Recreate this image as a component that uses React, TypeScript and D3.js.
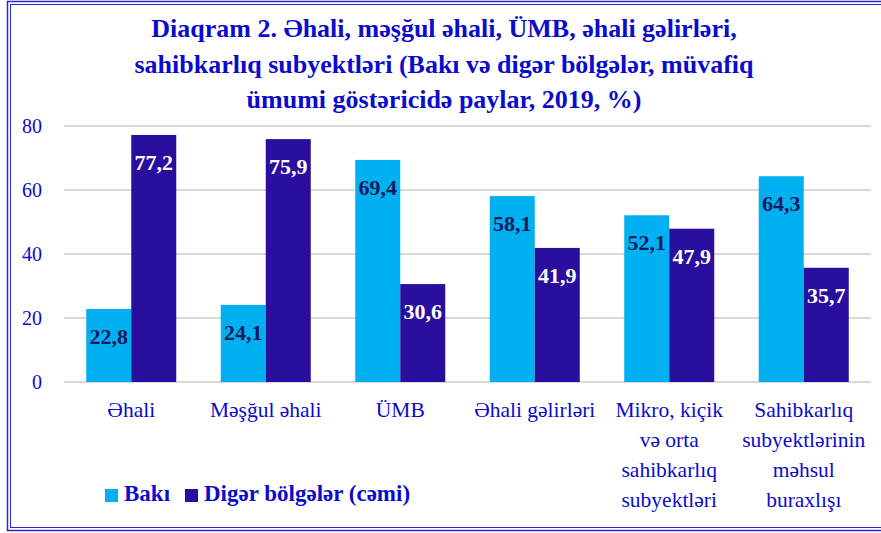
import React from "react";
import * as d3 from "d3";

const titleLines = [
  "Diaqram 2. Əhali, məşğul əhali, ÜMB, əhali gəlirləri,",
  "sahibkarlıq subyektləri (Bakı və digər bölgələr, müvafiq",
  "ümumi göstəricidə paylar, 2019, %)",
];
const categories = [
  ["Əhali"],
  ["Məşğul əhali"],
  ["ÜMB"],
  ["Əhali gəlirləri"],
  ["Mikro, kiçik", "və orta", "sahibkarlıq", "subyektləri"],
  ["Sahibkarlıq", "subyektlərinin", "məhsul", "buraxlışı"],
];
const seriesNames = ["Bakı", "Digər bölgələr (cəmi)"];
const bakuValues = [22.8, 24.1, 69.4, 58.1, 52.1, 64.3];
const otherValues = [77.2, 75.9, 30.6, 41.9, 47.9, 35.7];
const yTicks = [0, 20, 40, 60, 80];

const W = 881;
const H = 533;
const FONT = "'Liberation Serif', 'DejaVu Serif', serif";
const BLUE = "#0B0BCB";
const C1 = "#00B0F0";
const C2 = "#2A0E9E";

export default function App() {
  const plotLeft = 64;
  const plotRight = 871;
  const y = d3.scaleLinear().domain([0, 80]).range([382, 126]);
  const x0 = d3
    .scaleBand<number>()
    .domain(categories.map((_, i) => i))
    .range([plotLeft, plotRight])
    .paddingInner(0)
    .paddingOuter(0);
  const x1 = d3
    .scaleBand<number>()
    .domain([0, 1])
    .range([0, x0.bandwidth()])
    .paddingInner(0)
    .paddingOuter(0.494);
  const series = [bakuValues, otherValues];
  const colors = [C1, C2];
  const labelColors = ["#141A5C", "#FFFFFF"];

  return (
    <div style={{ position: "absolute", left: 0, top: 0 }}>
      <svg width={W} height={H} style={{ display: "block", background: "#fff" }}>
        <rect x={7.5} y={1.5} width={W + 10} height={529} fill="none" stroke="#2626D6" strokeWidth={1.5} />
        <rect x={10.5} y={4.5} width={W + 10} height={523} fill="none" stroke="#2626D6" strokeWidth={1} />
        {titleLines.map((t, i) => (
          <text
            key={i}
            x={444}
            y={37 + i * 35.5}
            textAnchor="middle"
            fontFamily={FONT}
            fontWeight="bold"
            fontSize={26}
            fill={BLUE}
          >
            {t}
          </text>
        ))}
        {yTicks.map((t) => (
          <g key={t}>
            <line x1={plotLeft} x2={plotRight} y1={y(t)} y2={y(t)} stroke="#D9D9D9" strokeWidth={2} />
            <text x={42} y={y(t)} dy="0.35em" textAnchor="end" fontFamily={FONT} fontSize={20} fill={BLUE}>
              {t}
            </text>
          </g>
        ))}
        {categories.map((_, i) => (
          <g key={i} transform={`translate(${x0(i)},0)`}>
            {series.map((vals, s) => {
              const v = vals[i];
              const bx = x1(s)!;
              const bw = x1.bandwidth();
              return (
                <g key={s}>
                  <rect x={bx} y={y(v)} width={bw} height={y(0) - y(v)} fill={colors[s]} />
                  <text
                    x={bx + bw / 2}
                    y={y(v) + 35}
                    textAnchor="middle"
                    fontFamily={FONT}
                    fontWeight="bold"
                    fontSize={22}
                    fill={labelColors[s]}
                  >
                    {v.toFixed(1).replace(".", ",")}
                  </text>
                </g>
              );
            })}
          </g>
        ))}
        {categories.map((lines, i) => (
          <text
            key={i}
            x={x0(i)! + x0.bandwidth() / 2}
            y={417}
            textAnchor="middle"
            fontFamily={FONT}
            fontSize={21.5}
            fill={BLUE}
          >
            {lines.map((l, j) => (
              <tspan key={j} x={x0(i)! + x0.bandwidth() / 2} y={417 + j * 30}>
                {l}
              </tspan>
            ))}
          </text>
        ))}
        <g>
          <rect x={105} y={489} width={13} height={13} fill={C1} />
          <text x={124} y={501} fontFamily={FONT} fontWeight="bold" fontSize={23} fill={BLUE}>
            {seriesNames[0]}
          </text>
          <rect x={185} y={489} width={13} height={13} fill={C2} />
          <text x={204} y={501} fontFamily={FONT} fontWeight="bold" fontSize={23} fill={BLUE}>
            {seriesNames[1]}
          </text>
        </g>
      </svg>
    </div>
  );
}
